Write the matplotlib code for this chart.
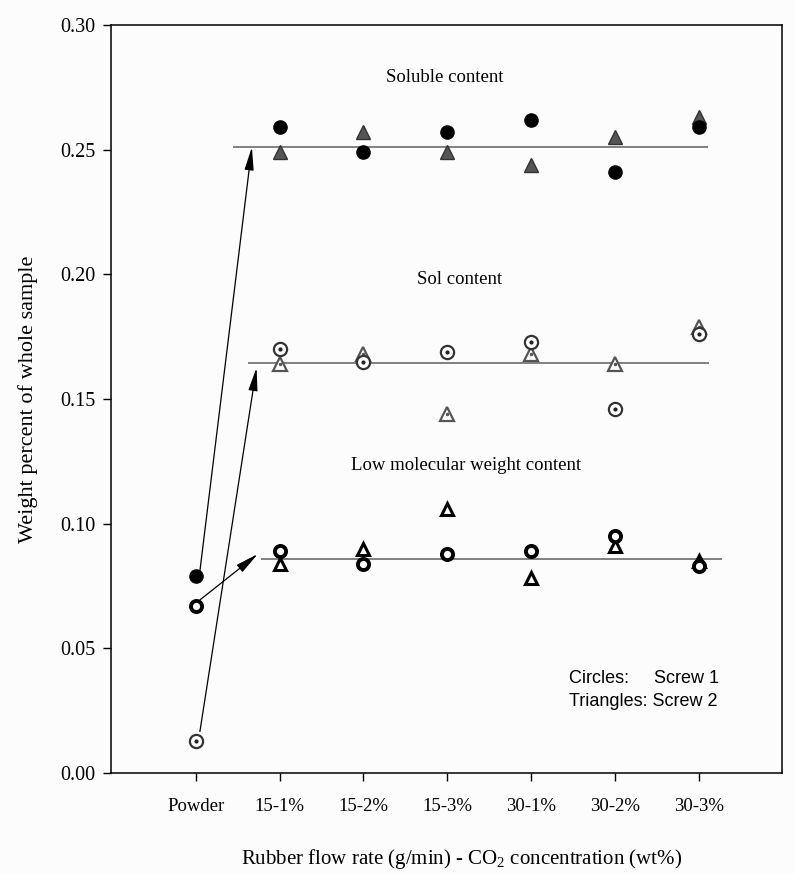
# -*- coding: utf-8 -*-
import numpy as np
import matplotlib
matplotlib.use("Agg")
import matplotlib.pyplot as plt

""" 数据 """
categories = ['Powder', '15-1%', '15-2%', '15-3%', '30-1%', '30-2%', '30-3%']

# Screw 1 (圆), 第一个点为 Powder
soluble_s1 = [0.079, 0.259, 0.249, 0.257, 0.262, 0.241, 0.259]
sol_s1     = [0.013, 0.170, 0.165, 0.169, 0.173, 0.146, 0.176]
lmw_s1     = [0.067, 0.089, 0.084, 0.088, 0.089, 0.095, 0.083]

# Screw 2 (三角), 只有挤出样品
soluble_s2 = [0.249, 0.257, 0.249, 0.244, 0.255, 0.263]
sol_s2     = [0.164, 0.168, 0.144, 0.168, 0.164, 0.179]
lmw_s2     = [0.084, 0.090, 0.106, 0.078, 0.091, 0.085]

# 平均值水平线
soluble_mean = 0.251
sol_mean     = 0.1645
lmw_mean     = 0.086


""" 绘图 """
plt.rcParams['font.family'] = ['Liberation Serif', 'DejaVu Serif']
plt.rcParams['mathtext.fontset'] = 'custom'
plt.rcParams['mathtext.rm'] = 'Liberation Serif'

fig = plt.figure(figsize=(7.95, 8.74), dpi=100, facecolor='#fcfcfc')
ax = fig.add_axes([0.1396, 0.1156, 0.8441, 0.8558])
ax.set_facecolor('#fcfcfc')

x_all = np.arange(len(categories))
x_proc = x_all[1:]

# 平均线
ax.hlines(soluble_mean, 0.45, 6.11, color='#777777', lw=1.3, zorder=1)
ax.hlines(sol_mean, 0.62, 6.12, color='#777777', lw=1.3, zorder=1)
ax.hlines(lmw_mean, 0.78, 6.28, color='#777777', lw=1.3, zorder=1)

# Soluble content
ax.plot(x_proc, soluble_s2, ls='none', marker='^', ms=10, mfc='#555555', mec='#333333', mew=1.0, zorder=3)
ax.plot(x_all, soluble_s1, ls='none', marker='o', ms=9.5, mfc='black', mec='black', zorder=4)

# Sol content
ax.plot(x_proc, sol_s2, ls='none', marker='^', ms=9.5, mfc='white', mec='#555555', mew=1.6, zorder=3)
ax.plot(x_proc, sol_s2, ls='none', marker='.', ms=3, color='#555555', zorder=3)
ax.plot(x_all, sol_s1, ls='none', marker='o', ms=9.5, mfc='white', mec='#333333', mew=1.6, zorder=4)
ax.plot(x_all, sol_s1, ls='none', marker='.', ms=4, color='#222222', zorder=4)

# Low molecular weight content
ax.plot(x_proc, lmw_s2, ls='none', marker='^', ms=9, mfc='white', mec='black', mew=2.2, zorder=3)
ax.plot(x_all, lmw_s1, ls='none', marker='o', ms=8, mfc='white', mec='black', mew=2.8, zorder=4)

# 箭头: Powder -> 平均线
arrow = dict(arrowstyle='-|>,head_width=0.2,head_length=1.0', color='black', lw=0.9,
             mutation_scale=14, shrinkA=0, shrinkB=0)
ax.annotate('', xy=(0.67, soluble_mean), xytext=(0.05, 0.081), arrowprops=arrow, zorder=2)
ax.annotate('', xy=(0.725, 0.1625), xytext=(0.05, 0.0166), arrowprops=arrow, zorder=2)
ax.annotate('', xy=(0.74, 0.0878), xytext=(0.05, 0.0694), arrowprops=arrow, zorder=2)

# 文字
ax.text(2.97, 0.279, 'Soluble content', ha='center', va='center', fontsize=13.5)
ax.text(3.14, 0.198, 'Sol content', ha='center', va='center', fontsize=13.5)
ax.text(3.22, 0.1235, 'Low molecular weight content', ha='center', va='center', fontsize=13.5)
ax.text(4.45, 0.038, 'Circles:     Screw 1', ha='left', va='center', fontsize=13,
        family=['Liberation Sans', 'DejaVu Sans'])
ax.text(4.45, 0.0285, 'Triangles: Screw 2', ha='left', va='center', fontsize=13,
        family=['Liberation Sans', 'DejaVu Sans'])

# 坐标轴
ax.set_xlim(-1.01, 6.99)
ax.set_ylim(0, 0.30)
ax.set_xticks(x_all)
ax.set_xticklabels(categories)
ax.set_yticks(np.arange(0, 0.301, 0.05))
ax.set_yticklabels(['%.2f' % v for v in np.arange(0, 0.301, 0.05)])
ax.tick_params(direction='out', length=6, width=1.0)
ax.tick_params(axis='y', labelsize=14.5, pad=5.5)
ax.tick_params(axis='x', labelsize=13.5, pad=12)
for s in ax.spines.values():
    s.set_linewidth(1.1)

ax.set_ylabel('Weight percent of whole sample', fontsize=16, labelpad=16)
ax.set_xlabel('Rubber flow rate (g/min) - CO$_2$ concentration (wt%)', fontsize=15)
ax.xaxis.set_label_coords(0.523, -0.099)

fig.savefig('out.png', dpi=100, facecolor=fig.get_facecolor())
